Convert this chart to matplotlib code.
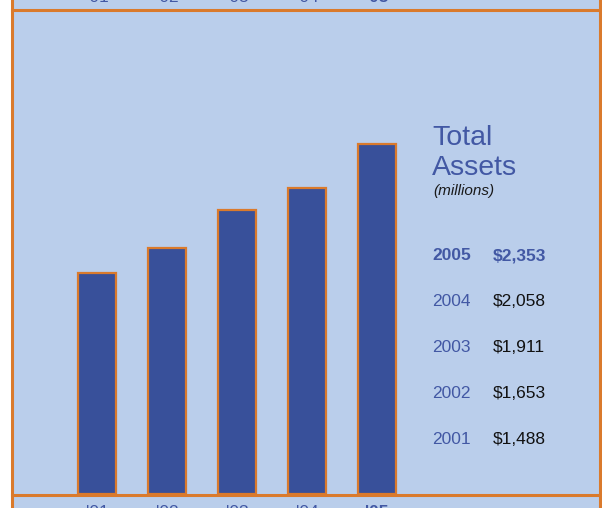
import matplotlib
matplotlib.use("Agg")
import matplotlib.pyplot as plt
from matplotlib.patches import Rectangle
from matplotlib.lines import Line2D

# ── Data ──────────────────────────────────────────────────────────────────────
years = ["2001", "2002", "2003", "2004", "2005"]
tick_labels = ["'01", "'02", "'03", "'04", "'05"]
assets = [1488, 1653, 1911, 2058, 2353]
asset_labels = ["$1,488", "$1,653", "$1,911", "$2,058", "$2,353"]

# ── Palette ───────────────────────────────────────────────────────────────────
C_BG = "#BACEEB"
C_BAR = "#38509A"
C_EDGE = "#DA7A2C"
C_BLUE = "#4258A4"
FONT = "Liberation Sans"

W, H = 602, 508
fig = plt.figure(figsize=(W / 100, H / 100), dpi=100, facecolor="white")


def fx(px):
    return px / W


def fy(py):
    # py measured from the top of the image
    return (H - py) / H


# panel background + borders
fig.patches.append(Rectangle((fx(12), 0), fx(600) - fx(12), 1,
                             transform=fig.transFigure, facecolor=C_BG,
                             edgecolor="none", zorder=-5))
for x in (12, 600):
    fig.lines.append(Line2D([fx(x), fx(x)], [0, 1], transform=fig.transFigure,
                            color=C_EDGE, lw=2.2, zorder=5))
for y in (10, 495):
    fig.lines.append(Line2D([fx(12), fx(602)], [fy(y), fy(y)],
                            transform=fig.transFigure, color=C_EDGE, lw=2.2, zorder=5))

# ── Bars ──────────────────────────────────────────────────────────────────────
ax = fig.add_axes([fx(12), fy(494), fx(600) - fx(12), fy(10) - fy(494)])
ax.set_zorder(1)
ax.set_facecolor("none")
xs = list(range(len(assets)))
ax.bar(xs, assets, width=0.54, color=C_BAR, edgecolor=C_EDGE, linewidth=1.6, zorder=2)
ax.set_xlim(-1.214, 7.186)
ax.set_ylim(0, 3255)
ax.axis("off")

# cut-off tick labels from the panels above and below
for i, t in enumerate(tick_labels):
    bold = "bold" if i == len(tick_labels) - 1 else "normal"
    fig.text(fx(97 + 70 * i), fy(2.5), t, ha="center", va="baseline",
             fontsize=12.5, color=C_BLUE, fontweight=bold, fontfamily=FONT, zorder=3)
    fig.text(fx(97 + 70 * i), fy(505), t, ha="center", va="top",
             fontsize=12.5, color=C_BLUE, fontweight=bold, fontfamily=FONT, zorder=3)

# ── Title block ───────────────────────────────────────────────────────────────
fig.text(fx(432), fy(138), "Total", ha="left", va="center", fontsize=20.5,
         color=C_BLUE, fontfamily=FONT, zorder=3)
fig.text(fx(432), fy(168), "Assets", ha="left", va="center", fontsize=20.5,
         color=C_BLUE, fontfamily=FONT, zorder=3)
fig.text(fx(433), fy(191), "(millions)", ha="left", va="center", fontsize=11,
         style="italic", color="#1A1A1A", fontfamily=FONT, zorder=3)

# ── Value table ───────────────────────────────────────────────────────────────
row_y = [439, 393, 347, 302, 256]
for yr, lab, y in zip(years, asset_labels, row_y):
    latest = yr == years[-1]
    fig.text(fx(432), fy(y), yr, ha="left", va="center", fontsize=12.5,
             color=C_BLUE, fontweight="bold" if latest else "normal",
             fontfamily=FONT, zorder=3)
    fig.text(fx(493), fy(y), lab, ha="left", va="center", fontsize=12.5,
             color=C_BLUE if latest else "#111111",
             fontweight="bold" if latest else "normal", fontfamily=FONT, zorder=3)

fig.savefig("out.png", dpi=100, facecolor="white")
